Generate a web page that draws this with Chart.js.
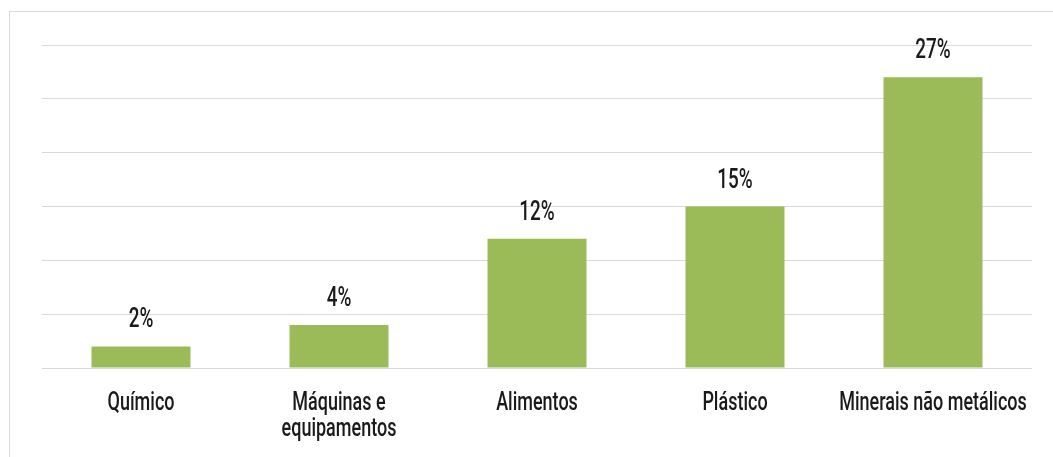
<!DOCTYPE html>
<html>
<head>
<meta charset="utf-8">
<script src="https://cdn.jsdelivr.net/npm/chart.js@4/dist/chart.umd.min.js"></script>
<style>
  html, body { margin: 0; padding: 0; background: #fff; }
  #wrap { width: 1053px; height: 457px; }
</style>
</head>
<body>
<div id="wrap"><canvas id="sectorChart" width="1053" height="457"></canvas></div>
<script>
// chart data
const sectors = ["Químico", ["Máquinas e", "equipamentos"], "Alimentos", "Plástico", "Minerais não metálicos"];
const shares = [2, 4, 12, 15, 27];
const shareLabels = ["2%", "4%", "12%", "15%", "27%"];

const fontFamily = "Roboto, 'Liberation Sans', sans-serif";

// draw text squeezed horizontally around its centre (original face is condensed)
function drawNarrow(ctx, text, x, y, squeeze) {
  ctx.save();
  ctx.translate(x, y);
  ctx.scale(squeeze, 1);
  ctx.fillText(text, 0, 0);
  ctx.restore();
}

// thin frame at top/left like the original picture
const framePlugin = {
  id: "frame",
  beforeDraw(chart) {
    const ctx = chart.ctx;
    ctx.save();
    ctx.strokeStyle = "#d9d9d9";
    ctx.lineWidth = 1;
    ctx.strokeRect(9.5, 11.5, chart.width + 10, chart.height + 10);
    ctx.restore();
  },
};

// value labels above bars and category labels under the axis
const textPlugin = {
  id: "texts",
  afterDatasetsDraw(chart) {
    const ctx = chart.ctx;
    const meta = chart.getDatasetMeta(0);
    const xScale = chart.scales.x;
    ctx.save();
    ctx.fillStyle = "#1a1a1a";
    ctx.textAlign = "center";
    ctx.textBaseline = "alphabetic";
    ctx.font = `500 27px ${fontFamily}`;
    meta.data.forEach((bar, i) => {
      drawNarrow(ctx, shareLabels[i], bar.x, bar.y - 19, 0.7);
    });
    ctx.font = `500 25px ${fontFamily}`;
    sectors.forEach((lbl, i) => {
      const x = xScale.getPixelForValue(i);
      const lines = Array.isArray(lbl) ? lbl : [lbl];
      lines.forEach((line, j) => {
        drawNarrow(ctx, line, x, xScale.top + 42 + j * 26, 0.72);
      });
    });
    ctx.restore();
  },
};

const ctx = document.getElementById("sectorChart").getContext("2d");

new Chart(ctx, {
  type: "bar",
  data: {
    labels: sectors,
    datasets: [
      {
        data: shares,
        backgroundColor: "#9bbb59",
        borderWidth: 0,
        barPercentage: 0.5,
        categoryPercentage: 1,
      },
    ],
  },
  options: {
    responsive: false,
    animation: false,
    layout: {
      padding: { left: 42, right: 21, top: 45, bottom: 89 },
    },
    scales: {
      x: {
        grid: { display: false, drawTicks: false },
        border: { display: false },
        ticks: { display: false },
      },
      y: {
        min: 0,
        max: 30,
        ticks: { display: false, stepSize: 5 },
        grid: { color: "#d9d9d9", lineWidth: 1, drawTicks: false },
        border: { display: false },
      },
    },
    plugins: {
      legend: { display: false },
      tooltip: { enabled: false },
    },
  },
  plugins: [framePlugin, textPlugin],
});
</script>
</body>
</html>
